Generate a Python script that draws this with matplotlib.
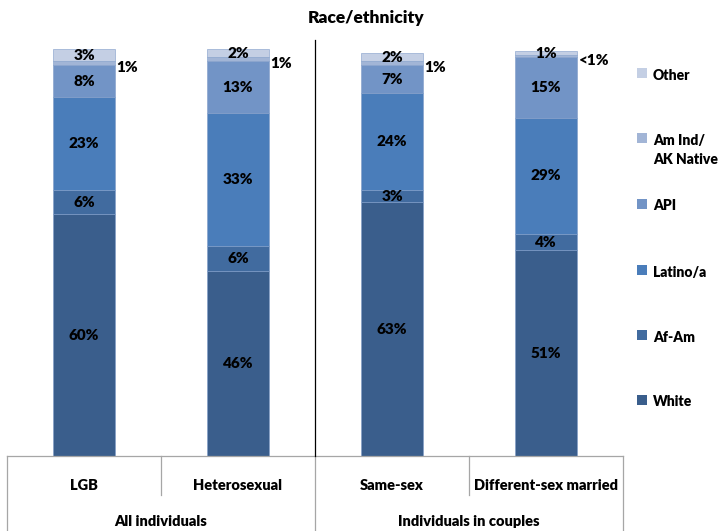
import matplotlib
matplotlib.use("Agg")
import matplotlib.pyplot as plt
from matplotlib.patches import Rectangle
from matplotlib.lines import Line2D

plt.rcParams['font.family'] = ['Lato', 'DejaVu Sans']
WEIGHT = 'heavy'

categories = ["LGB", "Heterosexual", "Same-sex", "Different-sex married"]
groups = ["All individuals", "Individuals in couples"]
series_names = ["White", "Af-Am", "Latino/a", "API", "Am Ind/\nAK Native", "Other"]
white = [60, 46, 63, 51]
afam = [6, 6, 3, 4]
latino = [23, 33, 24, 29]
api = [8, 13, 7, 15]
amind = [1, 1, 1, 0.5]
other = [3, 2, 2, 1]
amind_labels = ["1%", "1%", "1%", "<1%"]
colors = ["#3A5E8C", "#416B9F", "#4A7DBA", "#7294C6", "#A2B5D6", "#C4CFE4"]

series = [white, afam, latino, api, amind, other]

W, H = 723, 531
fig = plt.figure(figsize=(W / 100, H / 100), dpi=100)

def fx(px):
    return px / W

def fy(py):
    return 1 - py / H

ax_left, ax_right, ax_bot, ax_top = 7, 623, 456, 49
ax = fig.add_axes([fx(ax_left), fy(ax_bot), fx(ax_right) - fx(ax_left), fy(ax_top) - fy(ax_bot)])
ax.set_xlim(-0.5, 3.5)
ax.set_ylim(0, 101)
ax.axis('off')

x = list(range(len(categories)))
bw = 0.405
bottoms = [0.0] * len(categories)
for si, vals in enumerate(series):
    ax.bar(x, vals, bw, bottom=bottoms, color=colors[si], edgecolor="#7F9CC8",
           linewidth=0.4, zorder=2)
    for i, v in enumerate(vals):
        mid = bottoms[i] + v / 2
        if si == 4:
            ax.annotate(amind_labels[i], xy=(i + bw / 2, mid), xytext=(1, -3),
                        textcoords='offset points', ha='left', va='center',
                        fontsize=11, fontweight=WEIGHT, color='black')
        else:
            ax.text(i, mid, f"{v:g}%", ha='center', va='center', fontsize=11,
                    fontweight=WEIGHT, color='black', zorder=3)
    bottoms = [b + v for b, v in zip(bottoms, vals)]

# title
fig.text(fx(366), fy(18), "Race/ethnicity", ha='center', va='center',
         fontsize=12.5, fontweight=WEIGHT)

# table lines
lc = "#A6A6A6"
def line(x0, y0, x1, y1, color=lc, lw=0.9):
    fig.add_artist(Line2D([fx(x0), fx(x1)], [fy(y0), fy(y1)], color=color, lw=lw))

line(ax_left, ax_bot, ax_right, ax_bot)
line(ax_left, ax_bot, ax_left, 531)
line(ax_right, ax_bot, ax_right, 531)
line(161, ax_bot, 161, 495)
line(469, ax_bot, 469, 495)
line(315, ax_bot, 315, 531)
line(315, 40, 315, ax_bot, color="black", lw=0.9)

cat_x = [84, 238, 392, 546]
for cx, c in zip(cat_x, categories):
    fig.text(fx(cx), fy(485), c, ha='center', va='center', fontsize=10.5,
             fontweight=WEIGHT)
for gx, g in zip([161, 469], groups):
    fig.text(fx(gx), fy(521), g, ha='center', va='center', fontsize=10.5,
             fontweight=WEIGHT)

# legend
leg_y = [400, 335, 270, 204, 138, 73]
for si, name in enumerate(series_names):
    yc = leg_y[si]
    fig.add_artist(Rectangle((fx(637), fy(yc + 5)), fx(10), 10 / H,
                             facecolor=colors[si], edgecolor='none'))
    lines = name.split("\n")
    for li, t in enumerate(lines):
        fig.text(fx(653), fy(yc + 2 + li * 20), t, ha='left', va='center',
                 fontsize=10, fontweight=WEIGHT)

fig.savefig("out.png", dpi=100)
